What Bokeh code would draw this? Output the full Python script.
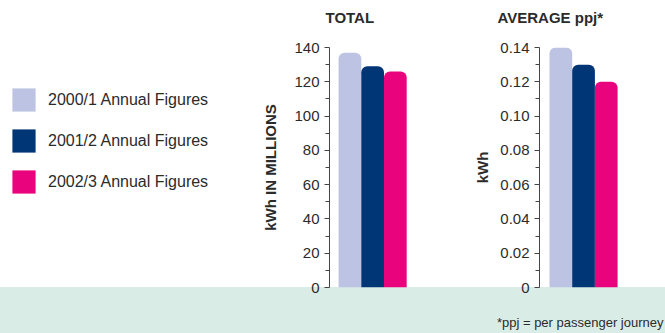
from bokeh.plotting import figure
from bokeh.models import Range1d, FixedTicker, Legend, LegendItem, ColumnDataSource, Title
from bokeh.layouts import row
from bokeh.embed import file_html
from bokeh.resources import INLINE

# ---- data ----
series = ["2000/1 Annual Figures", "2001/2 Annual Figures", "2002/3 Annual Figures"]
colors = ["#bcc3e3", "#003576", "#e9047e"]
total_kwh_millions = [137, 129, 126]
average_ppj_kwh = [0.14, 0.13, 0.12]
total_ticks = [0, 20, 40, 60, 80, 100, 120, 140]
avg_ticks = [0, 0.02, 0.04, 0.06, 0.08, 0.10, 0.12, 0.14]
avg_tick_labels = ["0", "0.02", "0.04", "0.06", "0.08", "0.10", "0.12", "0.14"]

BAND = "#d9ede6"
TEXT = "#2b2b2b"
FONT = "Liberation Sans"
H = 333


def base(width, **kw):
    p = figure(width=width, height=H, output_backend="svg", toolbar_location=None,
               min_border_top=47, min_border_bottom=46, outline_line_color=None,
               border_fill_color=None, background_fill_color=None, **kw)
    p.grid.visible = False
    return p


def spacer(size, standoff):
    return Title(text=" ", text_font=FONT, text_font_size=size, standoff=standoff)


# ---- legend panel ----
leg = base(250, x_range=Range1d(0, 1), y_range=Range1d(0, 1), min_border_left=0,
           min_border_right=0)
leg.axis.visible = False
items = []
for name, c in zip(series, colors):
    # legend-only renderer (hidden)
    r = leg.vbar(x=[0.5], top=[0.5], width=0.1, fill_color=c, line_color=None, visible=False)
    items.append(LegendItem(label=name, renderers=[r]))
legend = Legend(items=items, location=(9, 91), glyph_width=29, glyph_height=29,
                label_standoff=10, spacing=12, padding=0, margin=0,
                border_line_color=None, background_fill_alpha=0,
                inactive_fill_alpha=0, click_policy="none",
                label_text_font=FONT, label_text_font_size="16px",
                label_text_color=TEXT, label_height=29)
leg.add_layout(legend)


def chart(width, left, values, ticks, labels, xr, ylabel, title, title_offset, label_standoff):
    p = base(width, x_range=Range1d(*xr), y_range=Range1d(0, ticks[-1]),
             min_border_left=left, min_border_right=0)
    p.xaxis.visible = False
    src = ColumnDataSource(dict(x=list(range(len(values))), top=values, color=colors))
    p.vbar(x="x", top="top", width=1, bottom=0, fill_color="color", line_color=None,
           source=src, border_radius=(6, 6, 0, 0))
    ax = p.yaxis[0]
    step = ticks[1] - ticks[0]
    ax.ticker = FixedTicker(ticks=ticks,
                            minor_ticks=[ticks[0] + step * (i + 0.5) for i in range(len(ticks) - 1)])
    ax.major_label_overrides = {t: l for t, l in zip(ticks, labels)}
    ax.axis_line_color = "#444444"
    ax.major_tick_line_color = "#444444"
    ax.minor_tick_line_color = "#444444"
    ax.major_tick_out = 5
    ax.major_tick_in = 0
    ax.minor_tick_out = 4
    ax.minor_tick_in = 0
    ax.major_label_standoff = 5
    ax.major_label_text_font = FONT
    ax.major_label_text_font_size = "15px"
    ax.major_label_text_color = TEXT
    ax.axis_label = ylabel
    ax.axis_label_text_font = FONT
    ax.axis_label_text_font_size = "15px"
    ax.axis_label_text_font_style = "bold"
    ax.axis_label_text_color = TEXT
    ax.axis_label_standoff = label_standoff
    # spacer next to the frame, then the heading further out
    p.add_layout(spacer("15px", 3), "above")
    p.add_layout(Title(text=title, align="left", offset=title_offset, standoff=0,
                       text_font=FONT, text_font_size="15px", text_font_style="bold",
                       text_color=TEXT), "above")
    return p


total_labels = [str(t) for t in total_ticks]
p1 = chart(210, 79, total_kwh_millions, total_ticks, total_labels, (-0.9, 4.87),
           "kWh IN MILLIONS", "TOTAL", -4, 12)
p2 = chart(205, 79, average_ppj_kwh, avg_ticks, avg_tick_labels, (-0.94, 4.61),
           "kWh", "AVERAGE ppj*", -42, 6)
p2.add_layout(spacer("12px", 9), "below")
p2.add_layout(Title(text="*ppj = per passenger journey", align="right", text_font=FONT,
                    text_font_size="13px", text_font_style="normal", text_color=TEXT,
                    standoff=0, offset=2), "below")

p = row(leg, p1, p2,
        styles={"background": "linear-gradient(to bottom, #ffffff 0px, #ffffff 287px, "
                               + BAND + " 287px, " + BAND + " 100%)"})
open("out.html", "w").write(file_html(p, INLINE))
